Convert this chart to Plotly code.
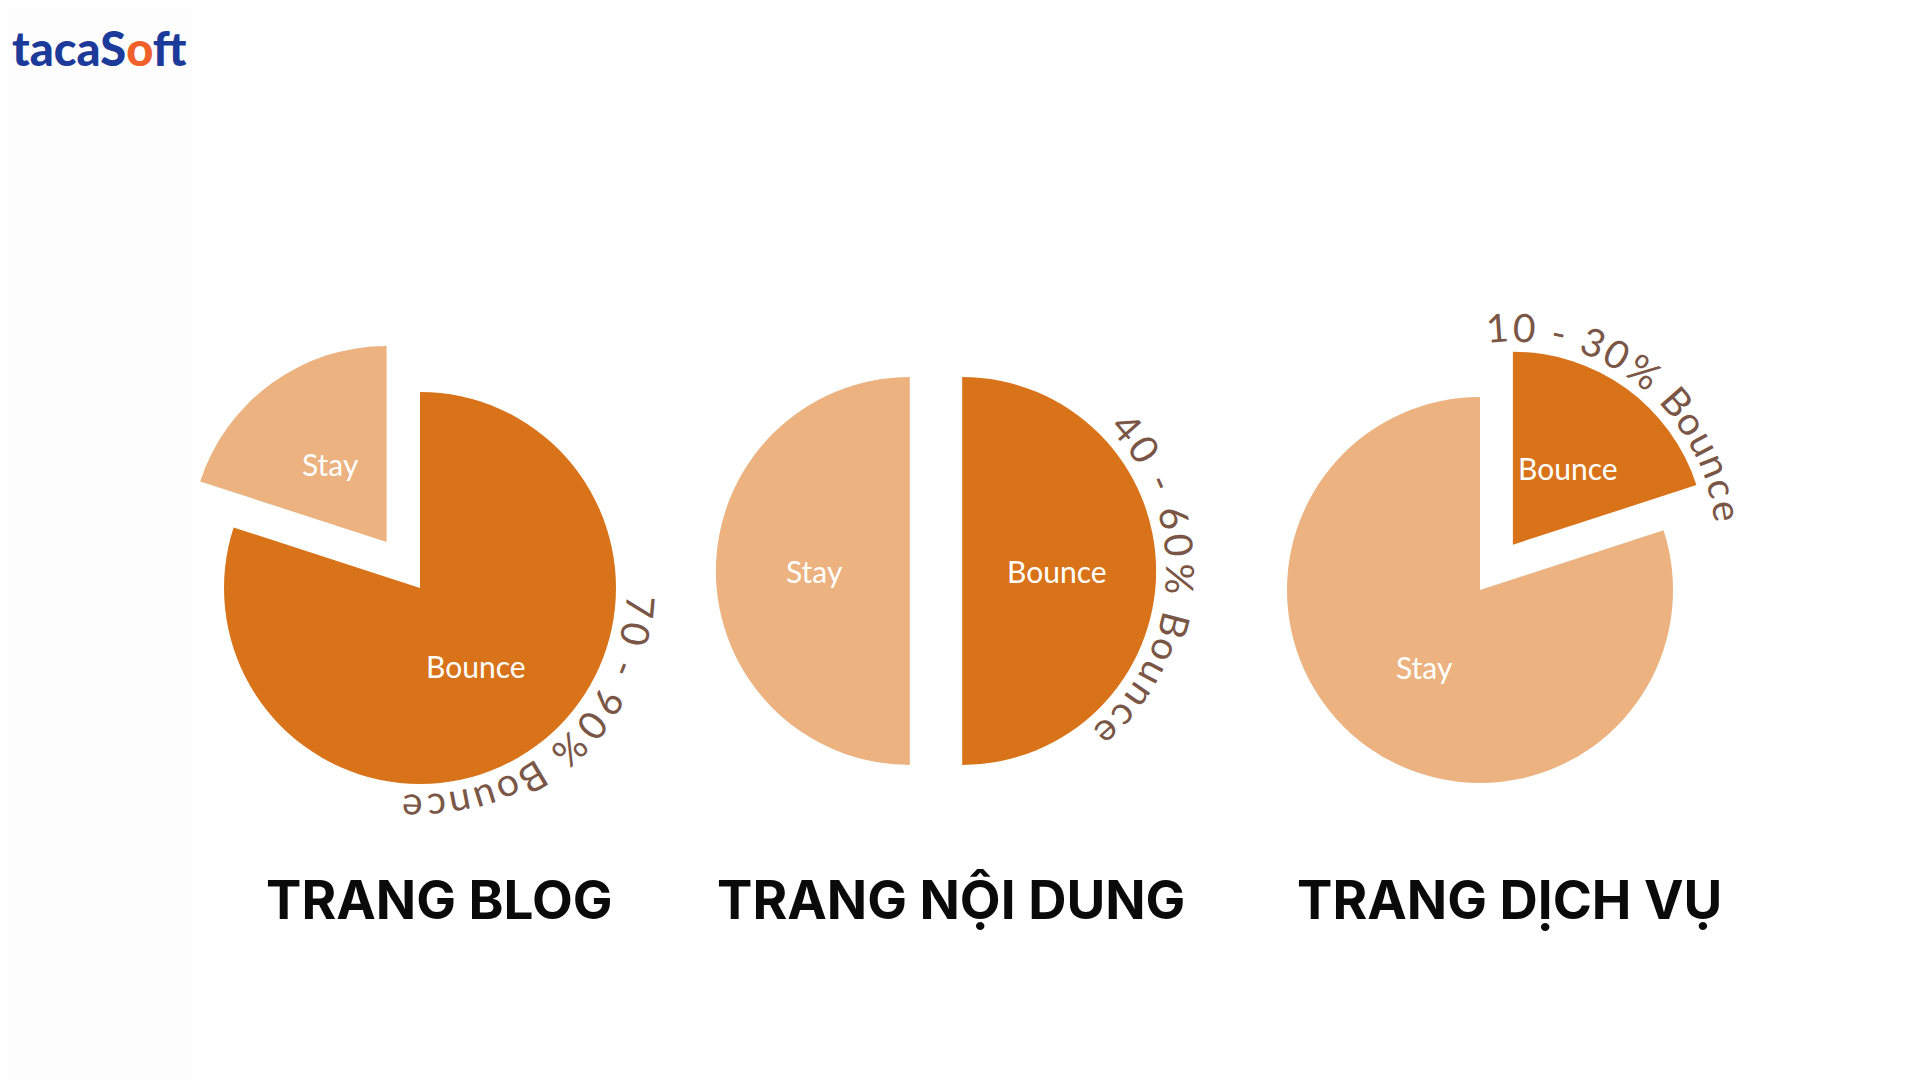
import math
import plotly.graph_objects as go

# ---------------- data ----------------
labels = ["Bounce", "Stay"]
blog_values = [80, 20]
content_values = [50, 50]
service_values = [20, 80]
page_titles = ["TRANG BLOG", "TRANG NỘI DUNG", "TRANG DỊCH VỤ"]
range_labels = ["70 - 90% Bounce", "40 - 60% Bounce", "10 - 30% Bounce"]
series_values = [blog_values, content_values, service_values]

# ---------------- styling / layout ----------------
W, H = 1920, 1080
OFF = 8  # page body margin of the rendered html
BOUNCE = "#D9731A"
STAY = "#ECB27F"
ARC_COLOR = "#7a5646"
colors = [BOUNCE, STAY]

# pixel placement (page coords) of each pie: centre, radius, pulls, arc-text angular span
pie_layout = [
    dict(cx=420, cy=588, r=196, pull=[0, 0.29], arc=(-5, -92), title_x=439),
    dict(cx=936, cy=571, r=194, pull=[0.135, 0.135], arc=(41, -48), title_x=951),
    dict(cx=1480, cy=590, r=193, pull=[0.29, 0], arc=(94, 9), title_x=1509),
]


def px2paper(px, py):
    return (px - OFF) / W, 1 - (py - OFF) / H


def adv(ch):
    if ch.isdigit():
        return 0.62
    if ch == " ":
        return 0.32
    if ch == "-":
        return 0.42
    if ch == "%":
        return 0.85
    if ch == "B":
        return 0.62
    if ch == "c":
        return 0.52
    return 0.58


def norm_angle(a):
    return (a + 180) % 360 - 180


fig = go.Figure()
annotations = []

for vals, lay, rng, title in zip(series_values, pie_layout, range_labels, page_titles):
    half = lay["r"] * (1 + max(lay["pull"]))
    x0, y1 = px2paper(lay["cx"] - half, lay["cy"] - half)
    x1, y0 = px2paper(lay["cx"] + half, lay["cy"] + half)
    fig.add_trace(go.Pie(
        labels=labels,
        values=vals,
        sort=False,
        direction="clockwise",
        rotation=0,
        pull=lay["pull"],
        marker=dict(colors=colors, line=dict(width=0)),
        textinfo="none",
        domain=dict(x=[x0, x1], y=[y0, y1]),
        showlegend=False,
        hoverinfo="label+percent",
    ))

    # slice labels placed along each slice's mid-angle
    total = sum(vals)
    start = 90.0
    slice_centres = []
    for lab, v, p in zip(labels, vals, lay["pull"]):
        span = 360.0 * v / total
        mid = math.radians(start - span / 2)
        vx = lay["cx"] + p * lay["r"] * math.cos(mid)
        vy = lay["cy"] - p * lay["r"] * math.sin(mid)
        slice_centres.append((vx, vy))
        lx = vx + 0.49 * lay["r"] * math.cos(mid)
        ly = vy - 0.49 * lay["r"] * math.sin(mid)
        ax, ay = px2paper(lx, ly)
        annotations.append(dict(
            x=ax, y=ay, xref="paper", yref="paper", text=lab, showarrow=False,
            xanchor="center", yanchor="middle",
            font=dict(family="Lato", size=30, color="white"),
        ))
        start -= span

    # curved range label around the Bounce slice, one character at a time
    pc_x, pc_y = slice_centres[0]
    R = lay["r"] * 1.13
    ws = [adv(c) for c in rng]
    centers = []
    s = 0
    for w in ws:
        centers.append(s + w / 2)
        s += w
    a0, a1 = lay["arc"]
    for ch, c in zip(rng, centers):
        if ch == " ":
            continue
        t = (c - centers[0]) / (centers[-1] - centers[0])
        th = a0 + t * (a1 - a0)
        thr = math.radians(th)
        ax, ay = px2paper(pc_x + R * math.cos(thr), pc_y - R * math.sin(thr))
        annotations.append(dict(
            x=ax, y=ay, xref="paper", yref="paper",
            text=ch, showarrow=False, xanchor="center", yanchor="middle",
            textangle=norm_angle(90 - th),
            font=dict(family="Lato", size=39, color=ARC_COLOR, weight=400),
        ))

    # page title
    tx, ty = px2paper(lay["title_x"], 900)
    annotations.append(dict(
        x=tx, y=ty, xref="paper", yref="paper",
        text=title, showarrow=False, xanchor="center", yanchor="middle",
        font=dict(family="Inter", size=53, color="#0a0a0a", weight=700),
    ))

# logo
lx, ly = px2paper(10, 48)
annotations.append(dict(
    x=lx, y=ly, xref="paper", yref="paper",
    text="tacaS<span style='color:#F0602A'>o</span>ft",
    showarrow=False, xanchor="left", yanchor="middle",
    font=dict(family="Lato", size=47, color="#1b3a9a", weight=900),
))

sx1, _ = px2paper(192, 0)
fig.update_layout(
    width=W, height=H,
    margin=dict(l=0, r=0, t=0, b=0),
    paper_bgcolor="white",
    plot_bgcolor="white",
    annotations=annotations,
    shapes=[dict(type="rect", xref="paper", yref="paper", x0=0, x1=sx1, y0=0, y1=1,
                 fillcolor="#fdfdfd", line=dict(width=0), layer="below")],
)

fig.write_html("out.html")
